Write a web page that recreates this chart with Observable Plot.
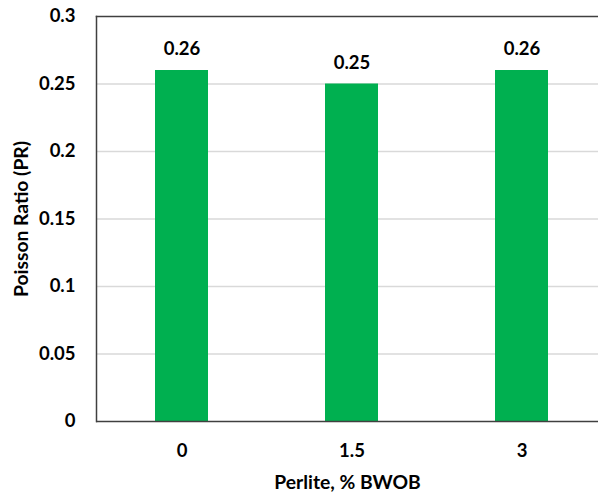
<!DOCTYPE html>
<html>
<head>
<meta charset="utf-8">
<script src="https://cdn.jsdelivr.net/npm/d3@7"></script>
<script src="https://cdn.jsdelivr.net/npm/@observablehq/plot@0.6"></script>
<style>
  html, body { margin: 0; padding: 0; background: #fff; overflow: hidden; }
  svg { overflow: hidden; }
</style>
</head>
<body>
<div id="chart"></div>
<script>
const categories = ["0", "1.5", "3"];
const values = [0.26, 0.25, 0.26];
const labels = ["0.26", "0.25", "0.26"];
const yTicks = [0, 0.05, 0.1, 0.15, 0.2, 0.25, 0.3];
const yTickLabels = ["0", "0.05", "0.1", "0.15", "0.2", "0.25", "0.3"];
const xTitle = "Perlite, % BWOB";
const yTitle = "Poisson Ratio (PR)";

const data = categories.map((c, i) => ({cat: c, value: values[i], label: labels[i]}));
const font = "Lato, Carlito, Calibri, sans-serif";

const chart = Plot.plot({
  width: 598,
  height: 493,
  marginLeft: 96,
  marginRight: 0,
  marginTop: 16,
  marginBottom: 72,
  style: {fontFamily: font, fontSize: "18px", fontWeight: "bold", color: "#000", background: "#fff", overflow: "hidden"},
  x: {domain: categories, range: [96, 606], paddingInner: 0.69, paddingOuter: 0.345, label: null, axis: null},
  y: {domain: [0, 0.3], label: null, axis: null},
  marks: [
    Plot.ruleY(yTicks.filter(d => d > 0 && d < 0.3), {stroke: "#d9d9d9", strokeWidth: 1.3}),
    Plot.barY(data, {x: "cat", y: "value", fill: "#00B050"}),
    Plot.frame({anchor: "left", stroke: "#404040", strokeWidth: 1.5}),
    Plot.frame({anchor: "top", stroke: "#404040", strokeWidth: 1.5}),
    Plot.ruleY([0], {stroke: "#404040", strokeWidth: 1.5}),
    Plot.text(data, {x: "cat", y: "value", text: "label", dy: -21, fontSize: 18.5, fontWeight: "bold", fill: "#000"}),
    Plot.axisY({ticks: yTicks, tickFormat: (d) => yTickLabels[yTicks.indexOf(d)], tickSize: 0, tickPadding: 21, fontSize: 18.5, fontWeight: "bold", label: null}),
    Plot.axisX({tickSize: 0, tickPadding: 22, fontSize: 18.5, fontWeight: "bold", label: null}),
    Plot.text([xTitle], {frameAnchor: "bottom", textAnchor: "middle", lineAnchor: "middle", dy: 61, fontSize: 19.3, fontWeight: "bold", fill: "#000"}),
    Plot.text([yTitle], {frameAnchor: "left", textAnchor: "middle", lineAnchor: "middle", dx: -75, rotate: -90, fontSize: 19.3, fontWeight: "bold", fill: "#000"})
  ]
});
document.getElementById("chart").appendChild(chart);
</script>
</body>
</html>
